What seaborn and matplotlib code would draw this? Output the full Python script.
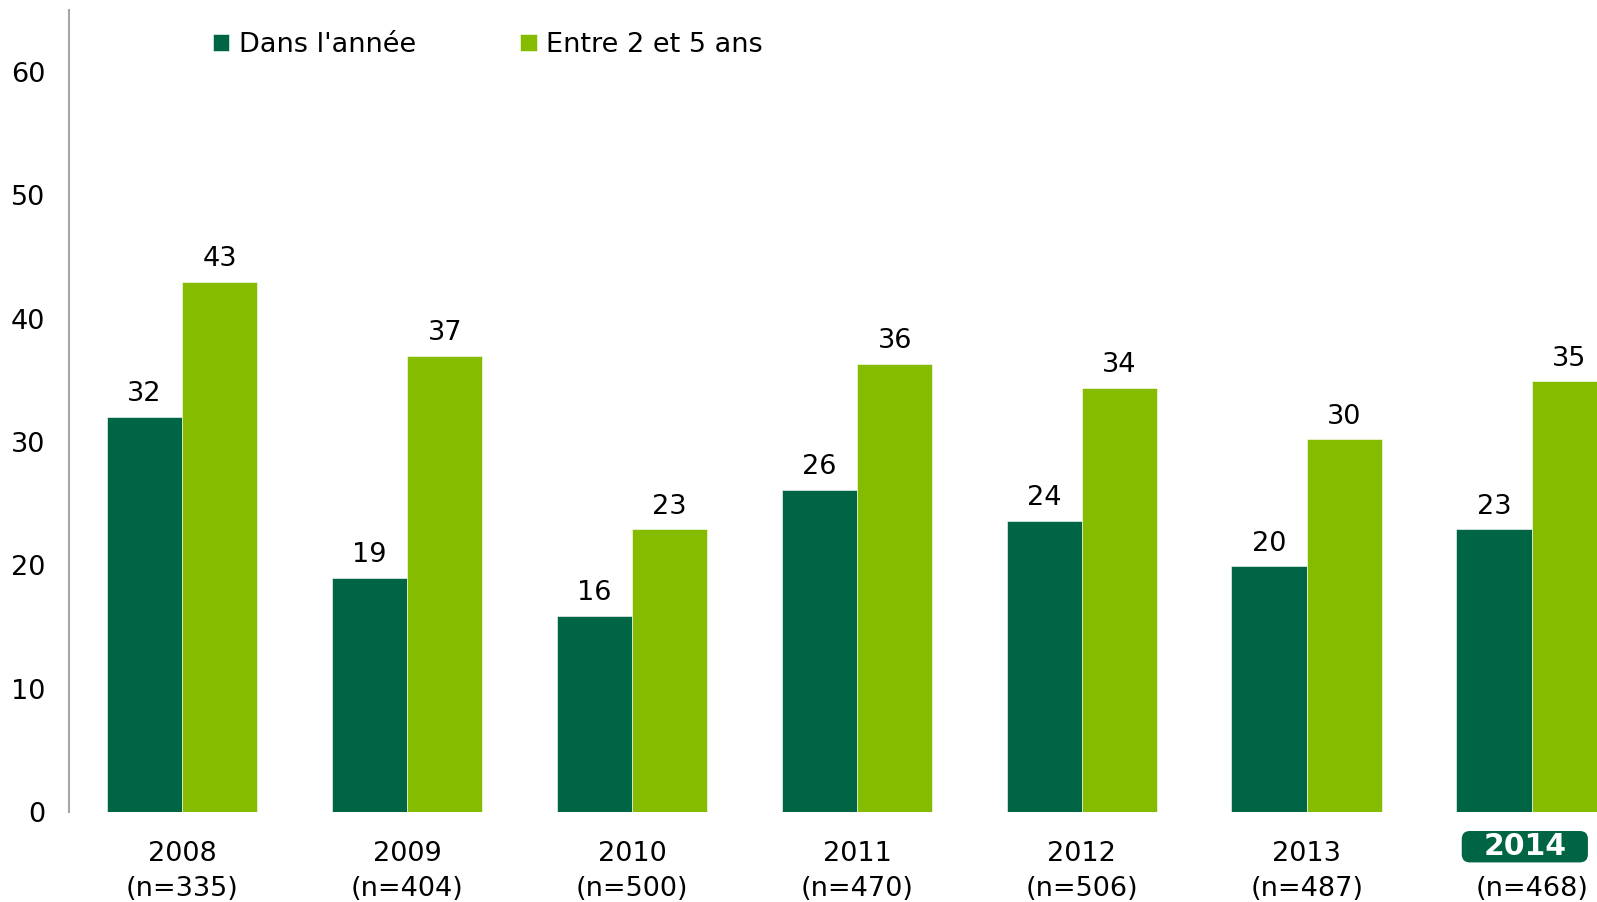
import pandas as pd
import seaborn as sns
import matplotlib.pyplot as plt

years = ["2008", "2009", "2010", "2011", "2012", "2013", "2014"]
sizes = ["335", "404", "500", "470", "506", "487", "468"]
series = ["Dans l'année", "Entre 2 et 5 ans"]
dans_annee = [32.0, 19.0, 15.9, 26.1, 23.6, 19.9, 22.9]
entre_2_5 = [43.0, 37.0, 22.9, 36.3, 34.4, 30.2, 34.9]
labels_dans = ["32", "19", "16", "26", "24", "20", "23"]
labels_entre = ["43", "37", "23", "36", "34", "30", "35"]

colors = ["#006544", "#85BC00"]

df = pd.DataFrame({
    "year": years * 2,
    "value": dans_annee + entre_2_5,
    "serie": [series[0]] * len(years) + [series[1]] * len(years),
})

sns.set_style("white")
plt.rcParams["font.family"] = ["DejaVu Sans"]
plt.rcParams["text.color"] = "black"

fs = 19.5

fig = plt.figure(figsize=(15.97, 9.02), dpi=100)
ax = fig.add_axes([0.0432, 0.0998, 0.9568, 0.889])

sns.barplot(data=df, x="year", y="value", hue="serie", palette=colors,
            width=0.67, ax=ax, saturation=1, edgecolor="white", linewidth=0.4)

for cont, labs in zip(ax.containers, [labels_dans, labels_entre]):
    ax.bar_label(cont, labels=labs, padding=7, fontsize=fs, color="black")

ax.set_ylim(0, 65)
ax.set_yticks(range(0, 61, 10))
ax.set_xlim(-0.503, 6.29)
ax.set_xlabel("")
ax.set_ylabel("")

ticklabels = [f"{y}\n(n={n})" for y, n in zip(years, sizes)]
ticklabels[-1] = ""
ax.set_xticks(range(len(years)))
ax.set_xticklabels(ticklabels, fontsize=fs, linespacing=1.42)
ax.tick_params(axis="x", length=0, pad=21, labelcolor="black")
ax.tick_params(axis="y", length=0, pad=17, labelsize=fs, labelcolor="black")

# highlighted last year: green rounded box + bold white year
last = len(years) - 1
ax.annotate(" " * 14, xy=(last, 0), xycoords=("data", "axes fraction"),
            xytext=(-5, -25), textcoords="offset points", ha="center", va="center",
            fontsize=fs,
            bbox=dict(boxstyle="round,pad=0.1,rounding_size=0.3", fc=colors[0], ec="none"))
ax.annotate(years[-1], xy=(last, 0), xycoords=("data", "axes fraction"),
            xytext=(-5, -25), textcoords="offset points", ha="center", va="center",
            fontsize=21.5, fontweight="bold", color="white")
ax.annotate(f"(n={sizes[-1]})", xy=(last, 0), xycoords=("data", "axes fraction"),
            xytext=(0, -55.5), textcoords="offset points", ha="center", va="center",
            fontsize=fs, color="black")

for s in ["top", "right", "bottom"]:
    ax.spines[s].set_visible(False)
ax.spines["left"].set_color("#A6A6A6")
ax.spines["left"].set_linewidth(1.5)

handles, _ = ax.get_legend_handles_labels()
ax.legend(handles, series, loc="upper left", bbox_to_anchor=(0.082, 0.996), ncol=2,
          frameon=False, fontsize=fs, handlelength=0.6, handleheight=0.6,
          handletextpad=0.35, columnspacing=3.85, borderaxespad=0.3)

fig.savefig("out.png", dpi=100)
